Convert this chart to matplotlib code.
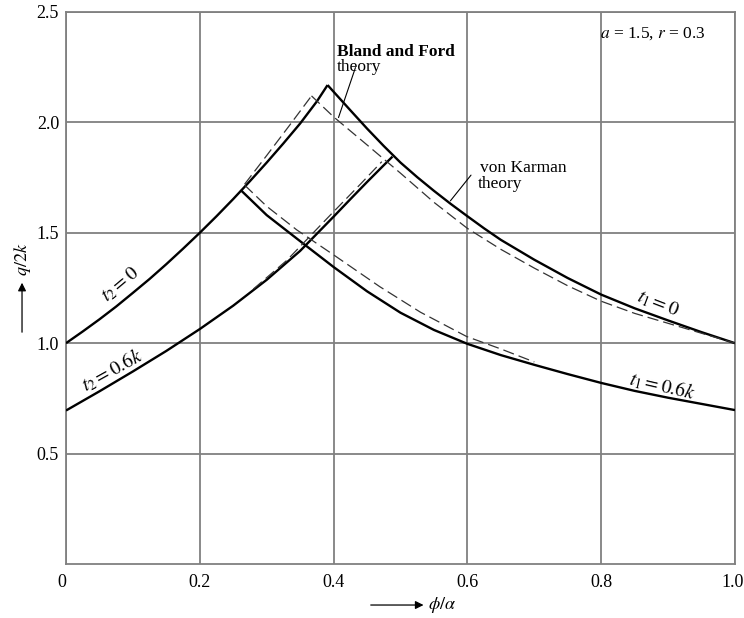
import matplotlib
matplotlib.use("Agg")
import matplotlib.pyplot as plt
from matplotlib.transforms import ScaledTranslation

plt.rcParams['font.family'] = ['Liberation Serif', 'DejaVu Serif']
plt.rcParams['mathtext.fontset'] = 'stix'

# von Karman theory (solid)
t2_0_x = [0, 0.025, 0.05, 0.075, 0.1, 0.125, 0.15, 0.175, 0.2, 0.225, 0.25, 0.275,
          0.3, 0.325, 0.35, 0.375, 0.391]
t2_0_y = [1.0, 1.053, 1.108, 1.166, 1.228, 1.291, 1.358, 1.428, 1.5, 1.575, 1.653, 1.734,
          1.818, 1.905, 1.995, 2.095, 2.169]
t1_0_x = [0.391, 0.425, 0.45, 0.475, 0.5, 0.525, 0.55, 0.575, 0.6, 0.625, 0.65, 0.7,
          0.75, 0.8, 0.85, 0.9, 0.95, 1.0]
t1_0_y = [2.169, 2.055, 1.972, 1.893, 1.818, 1.752, 1.69, 1.631, 1.575, 1.52, 1.468, 1.378,
          1.295, 1.22, 1.158, 1.103, 1.05, 1.0]
t2_6_x = [0, 0.05, 0.1, 0.15, 0.2, 0.25, 0.3, 0.35, 0.4, 0.425, 0.45, 0.475, 0.488]
t2_6_y = [0.695, 0.782, 0.872, 0.965, 1.064, 1.17, 1.287, 1.418, 1.573, 1.652, 1.73, 1.806,
          1.845]
t1_6_x = [0.261, 0.3, 0.35, 0.4, 0.45, 0.5, 0.55, 0.6, 0.65, 0.7, 0.75, 0.8, 0.85, 0.9,
          0.95, 1.0]
t1_6_y = [1.694, 1.58, 1.462, 1.345, 1.235, 1.138, 1.06, 0.997, 0.946, 0.902, 0.86, 0.82,
          0.784, 0.753, 0.725, 0.697]

# Bland and Ford theory (dashed)
bf_t2_0_x = [0.267, 0.3, 0.335, 0.367]
bf_t2_0_y = [1.72, 1.85, 1.99, 2.12]
bf_t1_0_x = [0.367, 0.4, 0.45, 0.5, 0.55, 0.6, 0.65, 0.7, 0.75, 0.8, 0.85, 0.9, 0.95, 1.0]
bf_t1_0_y = [2.12, 2.025, 1.898, 1.77, 1.638, 1.52, 1.425, 1.34, 1.26, 1.19, 1.135, 1.09,
             1.045, 1.0]
bf_t2_6_x = [0.28, 0.33, 0.395, 0.44, 0.472]
bf_t2_6_y = [1.245, 1.375, 1.58, 1.72, 1.822]
bf_t1_6_x = [0.267, 0.3, 0.345, 0.4, 0.469, 0.53, 0.599, 0.649, 0.7]
bf_t1_6_y = [1.716, 1.62, 1.513, 1.40, 1.256, 1.14, 1.03, 0.975, 0.915]

x_ticks = [0, 0.2, 0.4, 0.6, 0.8, 1.0]
x_tick_labels = ['0', '0.2', '0.4', '0.6', '0.8', '1.0']
y_ticks = [0.5, 1.0, 1.5, 2.0, 2.5]
y_tick_labels = ['0.5', '1.0', '1.5', '2.0', '2.5']

fig = plt.figure(figsize=(7.44, 6.18), dpi=100)
ax = fig.add_axes([0.0887, 0.0874, 0.8992, 0.8932])

grid_col = '#808080'
ax.set_xlim(0, 1.0)
ax.set_ylim(0, 2.5)
ax.set_xticks(x_ticks)
ax.set_xticklabels(x_tick_labels)
ax.set_yticks(y_ticks)
ax.set_yticklabels(y_tick_labels)
ax.tick_params(length=0, labelsize=13, colors='black')
ax.tick_params(axis='x', pad=7)
ax.tick_params(axis='y', pad=5)
xlabs = ax.get_xticklabels()
xlabs[0].set_ha('right')
# last label sits at the image edge, keep it inside
xlabs[-1].set_ha('right')
xlabs[-1].set_transform(xlabs[-1].get_transform() + ScaledTranslation(6 / 72, 0, fig.dpi_scale_trans))
ax.grid(True, color=grid_col, lw=1.3)
for s in ax.spines.values():
    s.set_color(grid_col)
    s.set_linewidth(1.3)

# solid curves
for xs, ys in [(t2_0_x, t2_0_y), (t1_0_x, t1_0_y), (t2_6_x, t2_6_y), (t1_6_x, t1_6_y)]:
    ax.plot(xs, ys, color='black', lw=1.7, solid_capstyle='butt', zorder=3)

# dashed curves
for xs, ys in [(bf_t2_0_x, bf_t2_0_y), (bf_t1_0_x, bf_t1_0_y),
               (bf_t2_6_x, bf_t2_6_y), (bf_t1_6_x, bf_t1_6_y)]:
    ax.plot(xs, ys, color='#333333', lw=0.9, dashes=(9, 4), zorder=3)

# annotations
ax.text(0.405, 2.30, 'Bland and Ford', fontsize=12.5, fontweight='bold')
ax.text(0.405, 2.233, 'theory', fontsize=12.5)
ax.annotate('', xy=(0.406, 2.01), xytext=(0.434, 2.26),
            arrowprops=dict(arrowstyle='-', lw=0.8, color='black'))

ax.text(0.619, 1.775, 'von Karman', fontsize=12.5)
ax.text(0.616, 1.703, 'theory', fontsize=12.5)
ax.annotate('', xy=(0.572, 1.635), xytext=(0.608, 1.771),
            arrowprops=dict(arrowstyle='-', lw=0.8, color='black'))

ax.text(0.798, 2.382, r'$a$ = 1.5, $r$ = 0.3', fontsize=12.5)

ax.text(0.081, 1.264, r'$t_2 = 0$', fontsize=14, rotation=40, ha='center', va='center')
ax.text(0.069, 0.878, r'$t_2 = 0.6k$', fontsize=14, rotation=29, ha='center', va='center')
ax.text(0.885, 1.18, r'$t_1 = 0$', fontsize=14, rotation=-21, ha='center', va='center')
ax.text(0.891, 0.806, r'$t_1 = 0.6k$', fontsize=14, rotation=-13, ha='center', va='center')

# axis labels with arrows
fig.text(0.0296, 0.581, r'$q/2k$', fontsize=13, rotation=90, ha='center', va='center')
ax.annotate('', xy=(0.0296, 0.547), xytext=(0.0296, 0.458), xycoords='figure fraction',
            textcoords='figure fraction',
            arrowprops=dict(arrowstyle='-|>', lw=0.9, color='black', mutation_scale=12))
fig.text(0.575, 0.021, r'$\phi/\alpha$', fontsize=13, ha='left', va='center')
ax.annotate('', xy=(0.573, 0.021), xytext=(0.4946, 0.021), xycoords='figure fraction',
            textcoords='figure fraction',
            arrowprops=dict(arrowstyle='-|>', lw=0.9, color='black', mutation_scale=12))

fig.savefig('out.png', dpi=100)
